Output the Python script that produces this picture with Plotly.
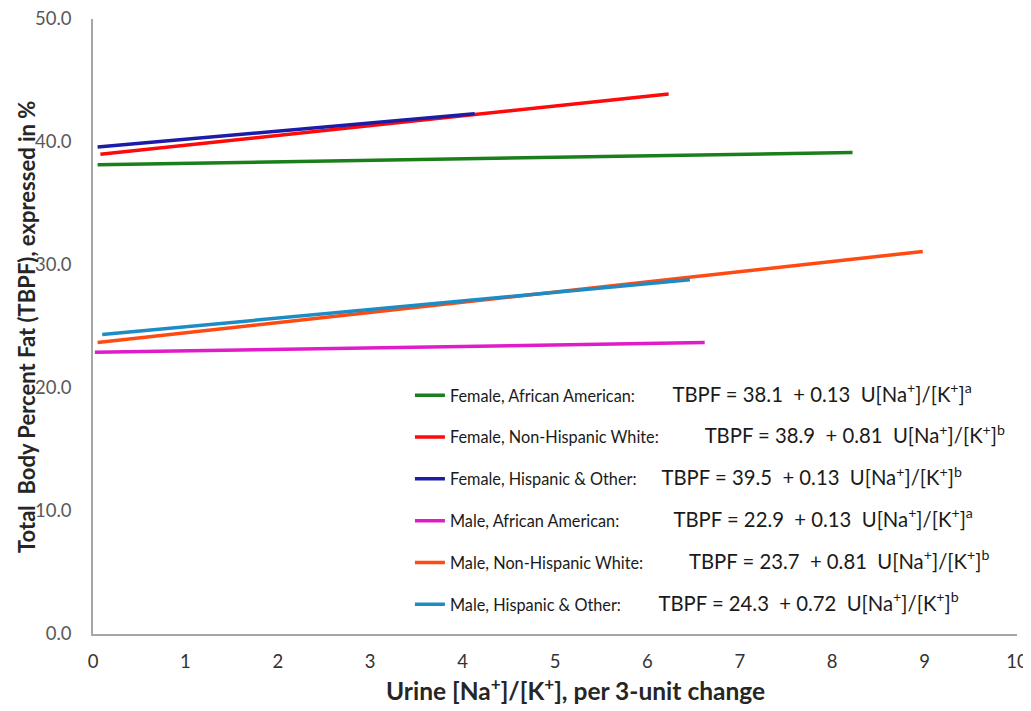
import plotly.graph_objects as go

# Series (two end points per fitted line)
series_names = [
    "Female, African American:",
    "Female, Non-Hispanic White:",
    "Female, Hispanic & Other:",
    "Male, African American:",
    "Male, Non-Hispanic White:",
    "Male, Hispanic & Other:",
]
x_start = [0.05, 0.08, 0.05, 0.02, 0.05, 0.10]
x_end = [8.22, 6.23, 4.13, 6.62, 8.98, 6.46]
y_start = [38.15, 39.0, 39.6, 22.9, 23.7, 24.35]
y_end = [39.15, 43.9, 42.3, 23.7, 31.1, 28.8]

# Equation text shown in the legend
intercepts = ["38.1", "38.9", "39.5", "22.9", "23.7", "24.3"]
slopes = ["0.13", "0.81", "0.13", "0.13", "0.81", "0.72"]
sig_marks = ["a", "b", "b", "a", "b", "b"]
gap_spaces = [9, 11, 6, 13, 11, 9]

colors = ["#1a7f1a", "#ff0a0a", "#1c1ca8", "#e01bc8", "#ff4a12", "#1e8cc4"]

y_ticks = [0, 10, 20, 30, 40, 50]
x_ticks = list(range(0, 11))

x_title = "<b>Urine [Na<sup>+</sup>]/[K<sup>+</sup>], per 3-unit change</b>"
y_title = "<b>Total  Body Percent Fat (TBPF), expressed in %</b>"

FONT = "Lato"
NB = "\u00a0"

fig = go.Figure()
for i, name in enumerate(series_names):
    eq = (f"<span style='font-size:20.3px'>TBPF = {intercepts[i]}{NB}{NB}+ {slopes[i]}{NB}{NB}"
          f"U[Na<sup>+</sup>]/[K<sup>+</sup>]<sup>{sig_marks[i]}</sup></span>")
    label = f"{name}{NB * gap_spaces[i]}{eq}"
    fig.add_trace(go.Scatter(
        x=[x_start[i], x_end[i]],
        y=[y_start[i], y_end[i]],
        mode="lines",
        line=dict(color=colors[i], width=3.5),
        name=label,
        legendgroup=f"g{i}",
    ))

# the page body has an 8px margin, so the figure fills the rest of the window
fig.update_layout(
    width=1023,
    height=703,
    margin=dict(l=85, r=14, t=11, b=77, autoexpand=False),
    paper_bgcolor="white",
    plot_bgcolor="white",
    font=dict(family=FONT, color="#262626"),
    showlegend=True,
    legend=dict(
        x=0.343, y=0.416, xanchor="left", yanchor="top",
        bgcolor="rgba(0,0,0,0)",
        font=dict(family=FONT, size=16.3, color="#1a1a1a"),
        tracegroupgap=17.6,
        traceorder="grouped",
    ),
    xaxis=dict(
        range=[0, 10],
        tickvals=x_ticks,
        showgrid=False, zeroline=False, automargin=False,
        showline=True, linecolor="#a6a6a6", linewidth=1.5,
        ticks="", ticklabelstandoff=10, ticklabeloverflow="allow",
        tickfont=dict(family=FONT, size=18.5, color="#333333"),
    ),
    yaxis=dict(
        range=[0, 50],
        tickvals=y_ticks,
        tickformat=".1f",
        showgrid=False, zeroline=False, automargin=False,
        showline=True, linecolor="#a6a6a6", linewidth=1.5,
        ticks="", ticklabelstandoff=16, ticklabeloverflow="allow",
        tickfont=dict(family=FONT, size=18.5, color="#595959"),
    ),
    annotations=[
        dict(text=x_title, xref="paper", yref="paper", x=0.522, y=-0.089,
             xanchor="center", yanchor="middle", showarrow=False,
             font=dict(family=FONT, size=24.5, color="#262626")),
        dict(text=y_title, xref="paper", yref="paper", x=-0.072, y=0.5,
             xanchor="center", yanchor="middle", showarrow=False, textangle=-90,
             font=dict(family=FONT, size=22, color="#262626")),
    ],
)

fig.write_html("out.html")
